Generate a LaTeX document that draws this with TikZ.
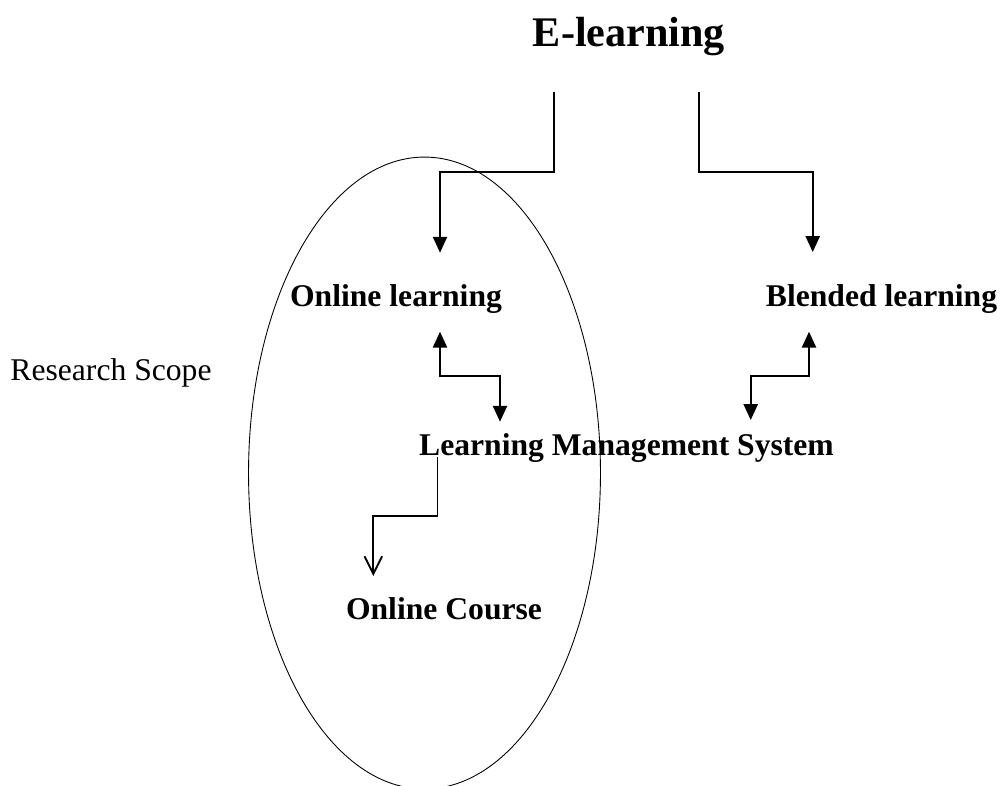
\documentclass[tikz,border=0pt]{standalone}
\usepackage{fontspec}
\setmainfont{Liberation Serif}
\usetikzlibrary{arrows.meta, calc}

\begin{document}
\begin{tikzpicture}[x = 0.02cm, y = -0.02cm,
    every node/.style = {inner sep = 0pt, anchor = base, font = \fontsize{18}{20}\selectfont\bfseries},
    link/.style = {line width = 1.1pt, -{Triangle[length = 9pt, width = 8pt]}},
    both/.style = {link, {Triangle[length = 9pt, width = 8pt]}-{Triangle[length = 9pt, width = 8pt]}}]
    \useasboundingbox (0, 0) rectangle (1003, 785);
    % scope of the research
    \draw[line width = 0.5pt] (424.5, 473) ellipse [x radius = 3.52cm, y radius = 6.32cm];
    \node (elearn) at (629, 46.7) [font = \fontsize{24}{28}\selectfont\bfseries] {E-learning};
    \node (online) at (396, 306.7) {Online learning};
    \node (blended) at (881.5, 306.7) {Blended learning};
    \node (scope) at (111, 380) [font = \fontsize{18}{20}\selectfont] {Research Scope};
    \node (lms) at (626.5, 455) {Learning Management System};
    \node (course) at (444, 619.3) {Online Course};
    % connectors
    \draw[link] ($(elearn.base) + (-75.3, 45)$) -- ++(0, 80.6) -| ($(online.base) + (44, -54)$);
    \draw[link] ($(elearn.base) + (69.7, 45)$) -- ++(0, 80.6) -| ($(blended.base) + (-68.8, -54.7)$);
    \draw[both] ($(online.base) + (44, 25)$) -- ++(0, 44) -| ($(lms.base) + (-126.5, -33.3)$);
    \draw[both] ($(blended.base) + (-72.5, 25)$) -- ++(0, 44) -| ($(lms.base) + (124.2, -35)$);
    \draw[line width = 1.1pt, -{Straight Barb[length = 10pt, width = 10pt]}]
        ($(lms.base) + (-189, 1.7)$) -- ++(0, 59.3) -| ($(course.base) + (-70.7, -43.3)$);
\end{tikzpicture}
\end{document}
